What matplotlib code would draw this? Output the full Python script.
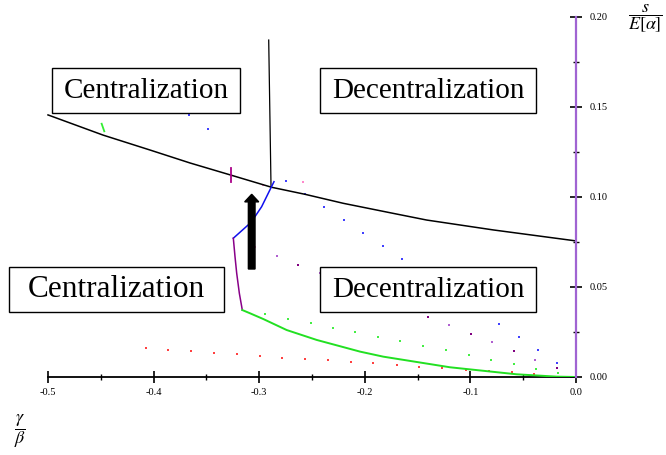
import matplotlib
matplotlib.use("Agg")
import matplotlib.pyplot as plt
from matplotlib.patches import Rectangle, FancyArrow
from matplotlib.ticker import MultipleLocator, FormatStrFormatter

plt.rcParams['font.family'] = ['Liberation Serif', 'DejaVu Serif']
plt.rcParams['mathtext.fontset'] = 'stix'
plt.rcParams['axes.unicode_minus'] = False

# boundary curves (gamma/beta, s/E[alpha])
upper_x = [-0.5, -0.4479, -0.4034, -0.3655, -0.327, -0.2882, -0.2566, -0.2204,
           -0.1730, -0.1414, -0.0783, 0.0]
upper_y = [0.1456, 0.1344, 0.1261, 0.1189, 0.1122, 0.1054, 0.1015, 0.0965,
           0.0909, 0.0872, 0.0817, 0.0756]

vert_x = [-0.2910, -0.2888]
vert_y = [0.1872, 0.1054]

blue_x = [-0.2860, -0.2888, -0.2977, -0.3040, -0.3087, -0.3245]
blue_y = [0.1085, 0.1052, 0.0946, 0.0891, 0.0854, 0.0771]

purple_x = [-0.3245, -0.3229, -0.3213, -0.3188, -0.3160]
purple_y = [0.0771, 0.0668, 0.0576, 0.0465, 0.0372]

green_x = [-0.3160, -0.3087, -0.2961, -0.2740, -0.2456, -0.2045, -0.1825,
           -0.1193, -0.0562, -0.0183, 0.0]
green_y = [0.0372, 0.0354, 0.0322, 0.0261, 0.0206, 0.0141, 0.0113,
           0.0054, 0.0015, 0.0002, 0.0]

# scattered sample points
red_px = [-0.4075, -0.3861, -0.3646, -0.3428, -0.3213, -0.2995, -0.2781, -0.2563,
          -0.2348, -0.2131, -0.1920, -0.1698, -0.1484, -0.1266, -0.1044, -0.0827,
          -0.0609, -0.0395]
red_py = [0.0159, 0.0150, 0.0144, 0.0135, 0.0126, 0.0118, 0.0107, 0.0100,
          0.0093, 0.0083, 0.0076, 0.0067, 0.0057, 0.0050, 0.0041, 0.0033,
          0.0026, 0.0015]

green_px = [-0.2945, -0.2730, -0.2512, -0.2304, -0.2093, -0.1878, -0.1667,
            -0.1452, -0.1234, -0.1016, -0.0802, -0.0590, -0.0379, -0.0168]
green_py = [0.0350, 0.0322, 0.0298, 0.0274, 0.0248, 0.0224, 0.0200,
            0.0174, 0.0148, 0.0124, 0.0096, 0.0072, 0.0046, 0.0024]

violet_px = [-0.2834, -0.2630, -0.2424, -0.2220, -0.2016, -0.1812, -0.1607,
             -0.1404, -0.1200, -0.0997, -0.0793, -0.0590, -0.0388, -0.0183]
violet_py = [0.0672, 0.0624, 0.0576, 0.0528, 0.0480, 0.0432, 0.0383,
             0.0335, 0.0287, 0.0239, 0.0193, 0.0144, 0.0094, 0.0048]

blue_px = [-0.3668, -0.3485, -0.2749, -0.2566, -0.2384, -0.2200, -0.2014,
           -0.1831, -0.1648, -0.1464, -0.1280, -0.1097, -0.0913, -0.0729,
           -0.0543, -0.0363, -0.0177]
blue_py = [0.1453, 0.1378, 0.1089, 0.1015, 0.0944, 0.0872, 0.0802,
           0.0728, 0.0656, 0.0583, 0.0511, 0.0439, 0.0367, 0.0294,
           0.0224, 0.0150, 0.0079]

pink_px = [-0.2961, -0.2585, -0.3040]
pink_py = [0.1067, 0.1083, 0.0724]

fig = plt.figure(figsize=(6.66, 4.55), dpi=100)
ax = fig.add_axes([48 / 666, 1 - 377 / 455, 528 / 666, 360 / 455])
ax.set_xlim(-0.5, 0.0)
ax.set_ylim(0.0, 0.2)
ax.patch.set_alpha(0)

ax.spines['left'].set_visible(False)
ax.spines['top'].set_visible(False)
ax.spines['bottom'].set_bounds(-0.5, 0.0)
ax.spines['bottom'].set_linewidth(1.3)
ax.spines['right'].set_bounds(0.0, 0.2)
ax.spines['right'].set_color('#a064d2')
ax.spines['right'].set_linewidth(1.6)
ax.spines['right'].set_zorder(6)
ax.yaxis.tick_right()

ax.xaxis.set_major_locator(MultipleLocator(0.1))
ax.xaxis.set_minor_locator(MultipleLocator(0.05))
ax.yaxis.set_major_locator(MultipleLocator(0.05))
ax.yaxis.set_minor_locator(MultipleLocator(0.025))
ax.xaxis.set_major_formatter(FormatStrFormatter('%.1f'))
ax.yaxis.set_major_formatter(FormatStrFormatter('%.2f'))
ax.tick_params(which='major', direction='inout', length=8, width=1.2,
               color='black', labelsize=7.5)
ax.tick_params(which='minor', direction='inout', length=4.5, width=1.0,
               color='black')
ax.tick_params(axis='x', which='major', pad=4)
ax.tick_params(axis='y', which='major', pad=6)

# scatter samples
ms = 1.6
ax.plot(red_px, red_py, 's', color='#ff4040', ms=ms, mew=0, zorder=2)
ax.plot(green_px, green_py, 's', color='#44ee44', ms=ms, mew=0, zorder=2)
ax.plot(violet_px[0::2], violet_py[0::2], 's', color='#b060d0', ms=ms, mew=0, zorder=2)
ax.plot(violet_px[1::2], violet_py[1::2], 's', color='#800080', ms=ms, mew=0, zorder=2)
ax.plot(blue_px, blue_py, 's', color='#4040ff', ms=ms, mew=0, zorder=2)
ax.plot(pink_px, pink_py, 's', color='#ff88cc', ms=ms + 0.4, mew=0, zorder=2)

# boundary curves
ax.plot(upper_x, upper_y, color='black', lw=1.1, zorder=3, clip_on=False)
ax.plot(vert_x, vert_y, color='black', lw=0.9, zorder=3)
ax.plot(blue_x, blue_y, color='#1010ee', lw=1.1, zorder=3)
ax.plot(purple_x, purple_y, color='#880088', lw=1.1, zorder=3)
ax.plot(green_x, green_y, color='#22e022', lw=1.4, zorder=3)

# small markers on the upper boundary
ax.plot([-0.4492, -0.4467], [0.1407, 0.1365], color='#33ee33', lw=1.3, zorder=4)
ax.plot([-0.327, -0.327], [0.1159, 0.1085], color='#aa0088', lw=1.3, zorder=4)

# arrow
ax.add_patch(FancyArrow(-0.3071, 0.060, 0.0, 0.0415, width=0.0063,
                        head_width=0.0133, head_length=0.0042,
                        length_includes_head=True, color='black', zorder=5))

# region labels (pixel boxes -> data coords)
def px2data(px, py):
    return -0.5 + (px - 48) / 1056, (377 - py) / 1800

boxes = [(52, 68, 240, 113, 'Centralization', 21),
         (320, 68, 536, 113, 'Decentralization', 21),
         (9, 267, 224, 312, 'Centralization', 22.5),
         (320, 267, 536, 312, 'Decentralization', 21)]
for x0, y0, x1, y1, label, fs in boxes:
    dx0, dy1 = px2data(x0, y1)
    dx1, dy0 = px2data(x1, y0)
    ax.add_patch(Rectangle((dx0, dy1), dx1 - dx0, dy0 - dy1, fc='white',
                           ec='black', lw=1.0, zorder=7, clip_on=False))
    ax.text((dx0 + dx1) / 2, (dy0 + dy1) / 2, label, ha='center', va='center',
            fontsize=fs, zorder=8, clip_on=False)

fig.text(20 / 666, 1 - 431 / 455, r'$\dfrac{\gamma}{\beta}$', ha='center',
         va='center', fontsize=13)
fig.text(645 / 666, 1 - 19 / 455, r'$\dfrac{s}{E\left[\alpha\right]}$',
         ha='center', va='center', fontsize=13)

fig.savefig('out.png', dpi=100)
